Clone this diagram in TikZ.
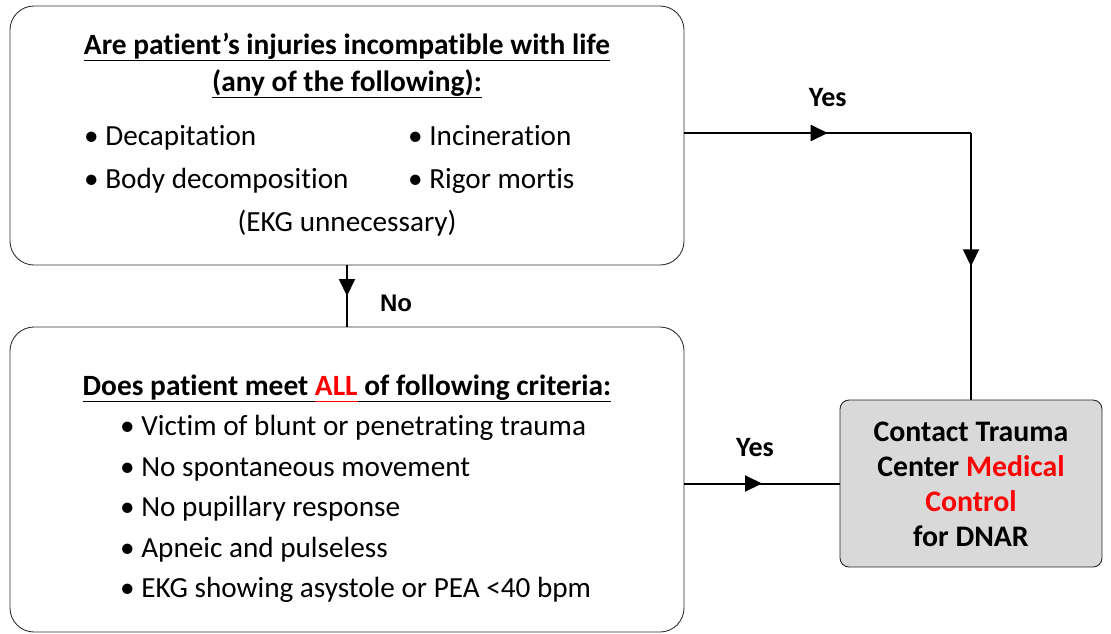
\documentclass[tikz,border=0pt]{standalone}
\usepackage{fontspec}
\setmainfont{Carlito}[RawFeature={-liga;-clig;-dlig}]
\newfontfamily\arialfont{Liberation Sans}
\usetikzlibrary{positioning,calc,arrows.meta,decorations.markings}
\newcommand\ulined[1]{\underline{#1\vphantom{(}}}

\begin{document}
\begin{tikzpicture}[x=1pt,y=1pt,
  qbox/.style={draw=black!80, line width=0.9pt, rounded corners=24pt},
  endbox/.style={draw=black!85, fill=black!15, line width=0.9pt, rounded corners=9pt},
  txt/.style={inner sep=0pt, font=\fontsize{29.2}{34}\selectfont},
  head/.style={inner sep=0pt, font=\fontsize{29.4}{34}\selectfont\bfseries},
  lbl/.style={inner sep=0pt, font=\fontsize{28}{34}\selectfont\bfseries},
  flow/.style={line width=2pt, postaction={decorate},
    decoration={markings, mark=at position #1 with {\arrow{Triangle[length=17pt,width=16pt]}}}},
  flow/.default=0.5]
  \useasboundingbox (0,0) rectangle (1111,-633);

  % the three boxes
  \node[qbox, minimum width=674pt, minimum height=259pt] (injury) at (347,-135.5) {};
  \node[qbox, minimum width=674pt, minimum height=305pt] (criteria) at (347,-479.5) {};
  \node[endbox, minimum width=262pt, minimum height=167pt] (contact) at (971,-483.5) {};

  % first question
  \node[head, anchor=base] (injuryh1) at (347,-54) {\ulined{Are patient’s injuries incompatible with life}};
  \node[head, anchor=base] (injuryh2) at (347,-91) {\ulined{(any of the following):}};
  \node[txt, anchor=base west] (decap) at (84,-145) {• Decapitation};
  \node[txt, anchor=base west] (incin) at (408,-145) {• Incineration};
  \node[txt, anchor=base west] (decomp) at (84,-188) {• Body decomposition};
  \node[txt, anchor=base west] (rigor) at (408,-188) {• Rigor mortis};
  \node[txt, anchor=base] (ekgnot) at (347,-231) {(EKG unnecessary)};

  % second question
  \node[head, anchor=base] (criteriah) at (347,-395)
    {\ulined{Does patient meet }\textcolor{red}{\ulined{ALL}}\ulined{ of following criteria:}};
  \node[txt, anchor=base west] (trauma) at (120,-435) {• Victim of blunt or penetrating trauma};
  \node[txt, anchor=base west] (move) at (120,-476) {• No spontaneous movement};
  \node[txt, anchor=base west] (pupil) at (120,-516) {• No pupillary response};
  \node[txt, anchor=base west] (apnea) at (120,-557) {• Apneic and pulseless};
  \node[txt, anchor=base west] (ekg) at (120,-597) {• EKG showing asystole or PEA <40 bpm};

  % outcome
  \node[head, align=center, font=\fontsize{29.8}{35}\selectfont\bfseries] (contacttxt) at ([yshift=-1pt]contact.center)
    {Contact Trauma\\Center \textcolor{red}{Medical}\\\textcolor{red}{Control}\\for DNAR};

  % connectors
  \coordinate (yesout) at ([yshift=2.5pt]injury.east);
  \coordinate (turn) at (contact.north |- yesout);
  \draw[flow] (yesout) -- node[lbl, above=25pt] (yes1) {Yes} (turn);
  \draw[flow] (turn) -- (contact.north);
  \draw[flow] (injury.south) -- node[right=32pt, yshift=-7pt, inner sep=0pt, font=\arialfont\fontsize{24}{28}\selectfont\bfseries] (no) {No} (criteria.north);
  \draw[flow] (criteria.east |- contact.west) -- node[lbl, above=26pt, xshift=-7pt] (yes2) {Yes} (contact.west);
\end{tikzpicture}
\end{document}
